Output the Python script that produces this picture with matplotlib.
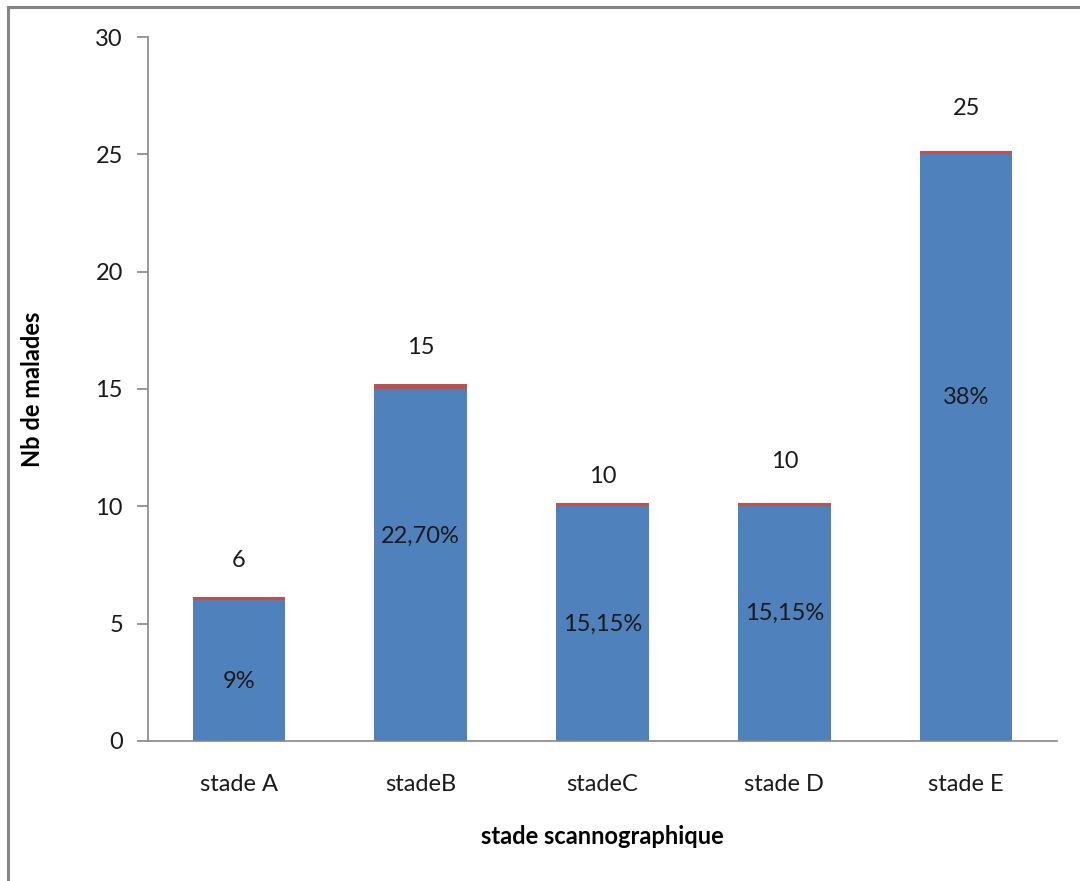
import matplotlib.pyplot as plt
from matplotlib.patches import Rectangle

plt.rcParams["font.family"] = ["Lato", "DejaVu Sans"]

# Nombre de malades par stade scannographique
stades = ["stade A", "stadeB", "stadeC", "stade D", "stade E"]
nb_malades = [6, 15, 10, 10, 25]
# fine bande rouge empilée au-dessus de chaque barre
bande = [0.15, 0.2, 0.15, 0.15, 0.15]
pourcentages = ["9%", "22,70%", "15,15%", "15,15%", "38%"]
# hauteur des étiquettes (en unités de l'axe)
y_effectif = [7.7, 16.75, 11.25, 11.9, 26.95]
y_pourcent = [2.55, 8.7, 4.95, 5.45, 14.65]

BLEU = "#4F81BD"
ROUGE = "#C0504D"
GRIS = "#868686"
TEXTE = "#1a1a1a"
TAILLE = 17

fig = plt.figure(figsize=(10.8, 8.81), dpi=100)
ax = fig.add_axes([0.137, 0.159, 0.8417, 0.799])

x = list(range(len(stades)))
ax.bar(x, nb_malades, width=0.51, color=BLEU, zorder=2)
ax.bar(x, bande, width=0.51, bottom=nb_malades, color=ROUGE, zorder=2)

for xi, n, yn in zip(x, nb_malades, y_effectif):
    ax.text(xi, yn, str(n), ha="center", va="center", fontsize=TAILLE, color=TEXTE)
for xi, p, yp in zip(x, pourcentages, y_pourcent):
    ax.text(xi, yp, p, ha="center", va="center", fontsize=TAILLE, color=TEXTE)

ax.set_xlim(-0.5, len(stades) - 0.5)
ax.set_ylim(0, 30)
ax.set_yticks(range(0, 31, 5))
ax.set_xticks(x)
ax.set_xticklabels(stades)

for side in ("top", "right"):
    ax.spines[side].set_visible(False)
for side in ("left", "bottom"):
    ax.spines[side].set_color(GRIS)
    ax.spines[side].set_linewidth(1.2)

ax.tick_params(axis="y", length=8, width=1.2, color=GRIS, labelsize=TAILLE,
               labelcolor=TEXTE, pad=10)
ax.tick_params(axis="x", length=0, labelsize=TAILLE, labelcolor=TEXTE, pad=24)

ax.set_xlabel("stade scannographique", fontsize=TAILLE, fontweight="bold", va="center")
ax.set_ylabel("Nb de malades", fontsize=TAILLE, fontweight="bold", va="center")
ax.xaxis.set_label_coords(0.5, -0.136)
ax.yaxis.set_label_coords(-0.1265, 0.5)

# cadre du graphique
fig.patches.append(Rectangle((0.0078, -0.05), 1.1, 1.042, transform=fig.transFigure,
                             fill=False, edgecolor=GRIS, linewidth=2.2))

fig.savefig("out.png", dpi=100, facecolor="white")
